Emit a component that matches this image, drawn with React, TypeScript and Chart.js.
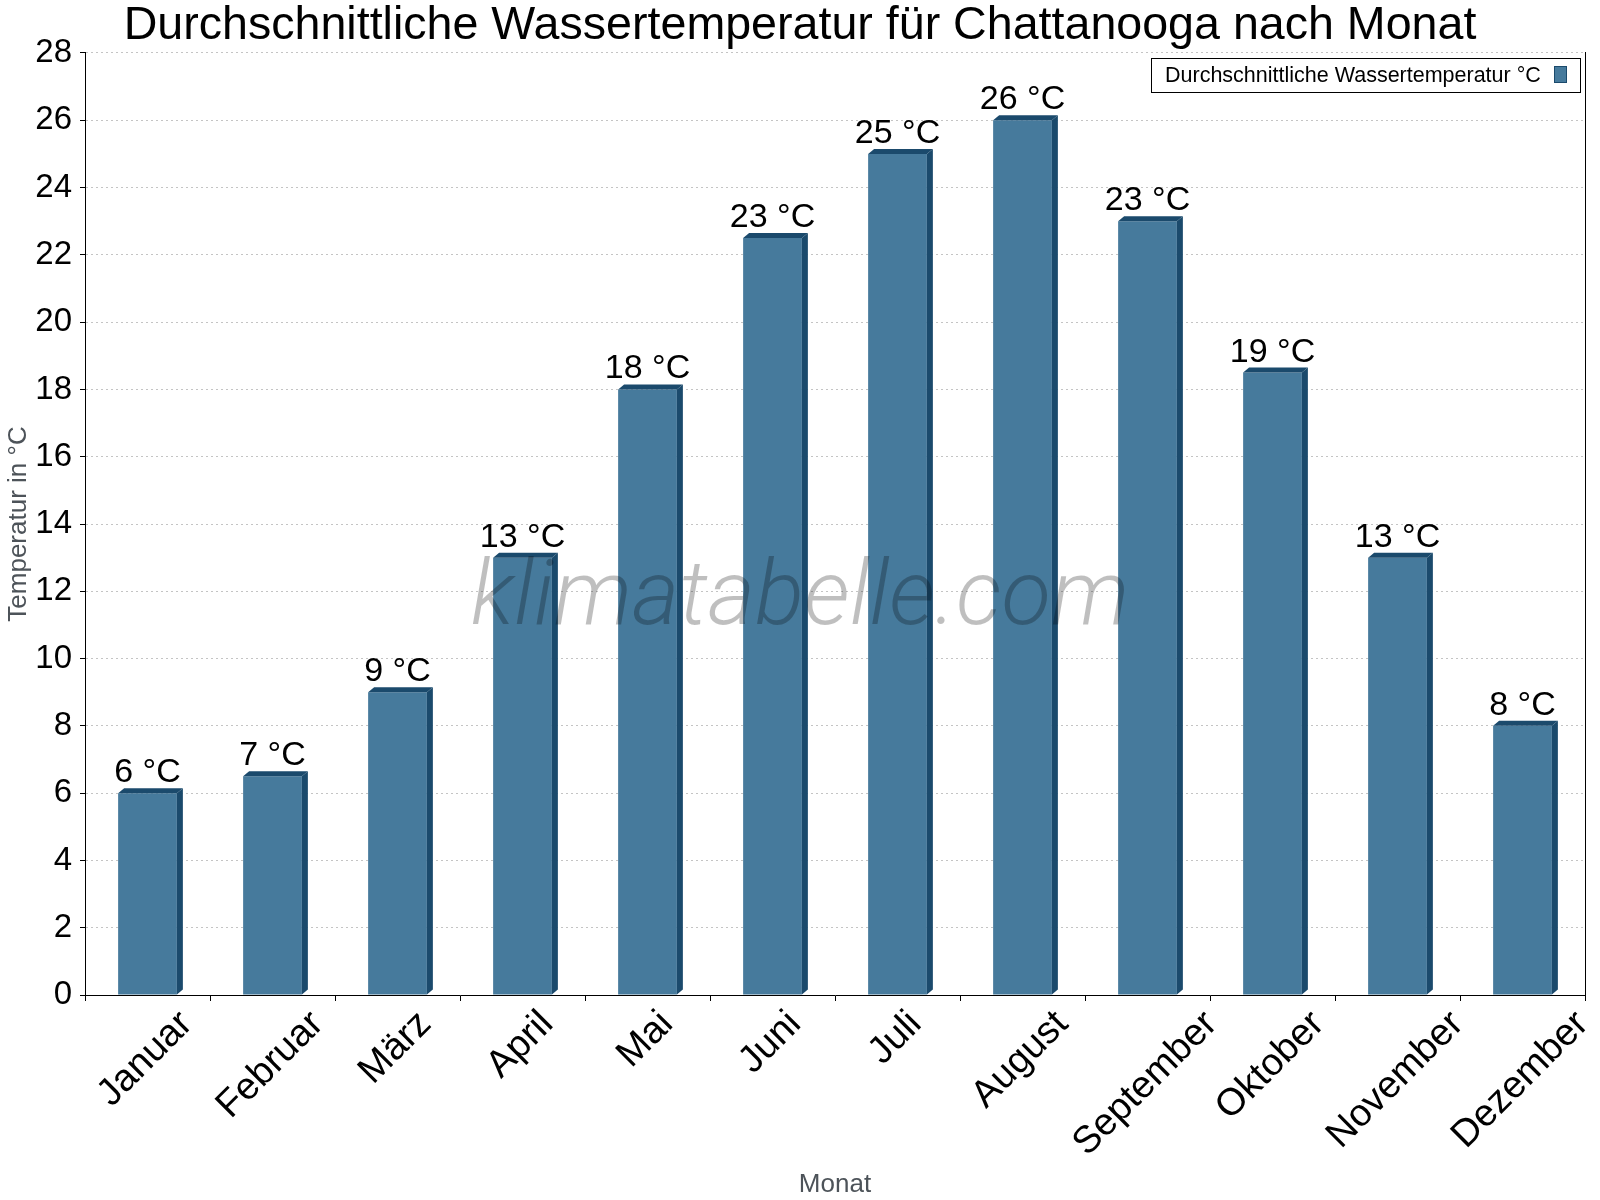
import React, { useEffect, useRef } from 'react';
import { Chart, registerables } from 'chart.js';

Chart.register(...registerables);

const months = ['Januar', 'Februar', 'März', 'April', 'Mai', 'Juni', 'Juli', 'August', 'September', 'Oktober', 'November', 'Dezember'];
const waterTemp = [6, 6.5, 9, 13, 18, 22.5, 25, 26, 23, 18.5, 13, 8];
const valueLabels = ['6 °C', '7 °C', '9 °C', '13 °C', '18 °C', '23 °C', '25 °C', '26 °C', '23 °C', '19 °C', '13 °C', '8 °C'];
const seriesName = 'Durchschnittliche Wassertemperatur °C';
const chartTitle = 'Durchschnittliche Wassertemperatur für Chattanooga nach Monat';
const yAxisTitle = 'Temperatur in °C';
const xAxisTitle = 'Monat';
const watermarkText = 'klimatabelle.com';
const yMin = 0;
const yMax = 28;
const yStep = 2;

const FRONT = '#467a9c';
const DARK = '#1b4a6c';
const FONT = '"Liberation Sans", Arial, Helvetica, sans-serif';
const X_LABEL_SIZE = 38;

const bar3d = {
  id: 'bar3d',
  afterDatasetsDraw(chart: any) {
    const ctx = chart.ctx;
    const meta = chart.getDatasetMeta(0);
    const dx = 6;
    const dy = 5;
    ctx.save();
    meta.data.forEach((bar: any) => {
      const { x, y, base, width } = bar.getProps(['x', 'y', 'base', 'width'], true);
      const x0 = x - width / 2;
      const x1 = x + width / 2;
      ctx.fillStyle = DARK;
      ctx.beginPath();
      ctx.moveTo(x1, y);
      ctx.lineTo(x1 + dx, y - dy);
      ctx.lineTo(x1 + dx, base - dy);
      ctx.lineTo(x1, base);
      ctx.closePath();
      ctx.fill();
      ctx.beginPath();
      ctx.moveTo(x0, y);
      ctx.lineTo(x0 + dx, y - dy);
      ctx.lineTo(x1 + dx, y - dy);
      ctx.lineTo(x1, y);
      ctx.closePath();
      ctx.fill();
    });
    // watermark
    ctx.font = `italic 300 91px Roboto, "Open Sans", sans-serif`;
    ctx.fillStyle = 'rgba(0,0,0,0.25)';
    ctx.textAlign = 'center';
    ctx.textBaseline = 'alphabetic';
    ctx.fillText(watermarkText, chart.width / 2, 624);
    // value labels
    ctx.font = `34px ${FONT}`;
    ctx.fillStyle = '#000';
    meta.data.forEach((bar: any, i: number) => {
      const { x, y } = bar.getProps(['x', 'y'], true);
      ctx.fillText(valueLabels[i], x, y - 11);
    });
    ctx.restore();
  },
  afterDraw(chart: any) {
    const ctx = chart.ctx;
    const ca = chart.chartArea;
    ctx.save();
    // rotated category labels, centred under each category
    const xs = chart.scales.x;
    ctx.font = `${X_LABEL_SIZE}px ${FONT}`;
    ctx.fillStyle = '#000';
    ctx.textAlign = 'center';
    ctx.textBaseline = 'middle';
    months.forEach((m, i) => {
      const px = xs.getPixelForTick(i) - 2;
      const w = ctx.measureText(m).width;
      const cy = xs.top + 13 + ((w + 0.75 * X_LABEL_SIZE) * Math.SQRT1_2) / 2;
      ctx.save();
      ctx.translate(px, cy);
      ctx.rotate(-Math.PI / 4);
      ctx.fillText(m, 0, 0);
      ctx.restore();
    });
    // legend
    ctx.font = `21.5px ${FONT}`;
    const tw = ctx.measureText(seriesName).width;
    const padL = 14, gap = 13, sw = 13, sh = 17, padR = 13, h = 34;
    const w = Math.round(padL + tw + gap + sw + padR);
    const right = Math.round(ca.right - 5);
    const top = Math.round(ca.top + 5);
    const left = right - w;
    ctx.fillStyle = '#fff';
    ctx.fillRect(left, top, w, h);
    ctx.strokeStyle = '#000';
    ctx.lineWidth = 1;
    ctx.strokeRect(left + 0.5, top + 0.5, w, h);
    ctx.fillStyle = '#000';
    ctx.textAlign = 'left';
    ctx.textBaseline = 'alphabetic';
    ctx.fillText(seriesName, left + padL, top + 24);
    const sx = Math.round(left + padL + tw + gap);
    ctx.fillStyle = FRONT;
    ctx.fillRect(sx, top + 8, sw, sh);
    ctx.strokeStyle = DARK;
    ctx.strokeRect(sx + 0.5, top + 8.5, sw - 1, sh - 1);
    ctx.restore();
  },
};

export default function App() {
  const ref = useRef<HTMLCanvasElement>(null);
  useEffect(() => {
    document.body.style.margin = '0';
    const chart = new Chart(ref.current as HTMLCanvasElement, {
      type: 'bar',
      data: {
        labels: months,
        datasets: [
          {
            label: seriesName,
            data: waterTemp,
            backgroundColor: FRONT,
            borderWidth: 0,
            barPercentage: 0.47,
            categoryPercentage: 1,
          },
        ],
      },
      plugins: [bar3d],
      options: {
        responsive: false,
        animation: false,
        devicePixelRatio: 1,
        layout: { padding: { left: 0, right: 0, top: 0, bottom: 0 } },
        plugins: {
          legend: { display: false },
          tooltip: { enabled: false },
          title: {
            display: true,
            text: chartTitle,
            color: '#000',
            font: { family: FONT, size: 46.6, weight: 'normal', lineHeight: 53 / 46.6 },
            padding: { top: 0, bottom: 0 },
          },
        },
        scales: {
          x: {
            type: 'category',
            offset: true,
            grid: { display: true, drawOnChartArea: false, drawTicks: true, tickLength: 6, tickColor: '#000', offset: true },
            border: { display: true, color: '#000', width: 1 },
            ticks: { display: false, autoSkip: false },
            title: {
              display: true,
              text: xAxisTitle,
              color: '#4d5359',
              font: { family: FONT, size: 26 },
              padding: { top: 0, bottom: 0 },
            },
            afterFit: (s: any) => {
              s.height = 205;
            },
          },
          y: {
            position: 'left',
            min: yMin,
            max: yMax,
            ticks: { stepSize: yStep, color: '#000', font: { family: FONT, size: 33 }, padding: 8 },
            grid: { color: '#c4c4c4', tickColor: '#000', tickLength: 5, tickBorderDash: [], drawTicks: true },
            border: { display: true, color: '#000', width: 1, dash: [2, 3] },
            title: {
              display: true,
              text: yAxisTitle,
              color: '#4d5359',
              font: { family: FONT, size: 26 },
              padding: { top: 3, bottom: 0 },
            },
            afterFit: (s: any) => {
              s.width = 85;
            },
          },
          y2: {
            position: 'right',
            min: yMin,
            max: yMax,
            ticks: { display: false },
            grid: { drawOnChartArea: false, drawTicks: false },
            border: { display: true, color: '#000', width: 1 },
            afterFit: (s: any) => {
              s.width = 15;
            },
          },
        },
      } as any,
    });
    return () => chart.destroy();
  }, []);
  return (
    <div style={{ width: 1600, height: 1200 }}>
      <canvas ref={ref} width={1600} height={1200} style={{ display: 'block', width: 1600, height: 1200 }} />
    </div>
  );
}
